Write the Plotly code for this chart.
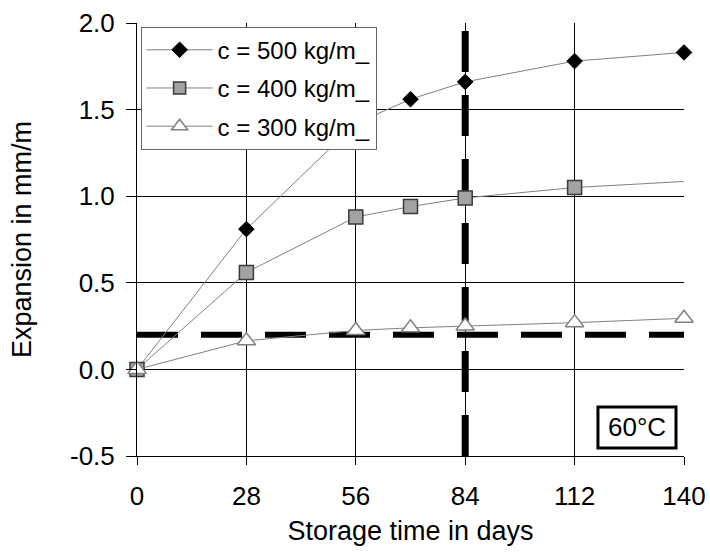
import plotly.graph_objects as go

# ---- data ----
days_500 = [0, 28, 56, 70, 84, 112, 140]
exp_500 = [0.0, 0.81, 1.42, 1.56, 1.66, 1.78, 1.83]

days_400 = [0, 28, 56, 70, 84, 112, 168]
exp_400 = [0.0, 0.56, 0.88, 0.94, 0.99, 1.05, 1.12]

days_300 = [0, 28, 56, 70, 84, 112, 140, 168]
exp_300 = [0.0, 0.165, 0.225, 0.24, 0.25, 0.27, 0.295, 0.32]

series_names = ["c = 500 kg/m_", "c = 400 kg/m_", "c = 300 kg/m_"]

limit_expansion = 0.2   # horizontal dashed limit
limit_day = 84          # vertical dashed limit

x_ticks = [0, 28, 56, 84, 112, 140]
y_ticks = [-0.5, 0.0, 0.5, 1.0, 1.5, 2.0]
x_range = [0, 140]
y_range = [-0.5, 2.0]

FONT = "Liberation Sans, Arial, sans-serif"


def sizes(days, s):
    # hide markers of points that lie outside the visible day range
    return [s if x_range[0] <= d <= x_range[1] else 0 for d in days]


fig = go.Figure()

# dashed limit lines (drawn beneath data)
fig.add_trace(go.Scatter(
    x=[x_range[0], x_range[1]], y=[limit_expansion, limit_expansion],
    mode="lines", line=dict(color="black", width=6, dash="41px,23px"),
    showlegend=False, hoverinfo="skip"))
fig.add_trace(go.Scatter(
    x=[limit_day, limit_day], y=[y_range[0], y_range[1]],
    mode="lines", line=dict(color="black", width=7, dash="41px,23px"),
    showlegend=False, hoverinfo="skip"))

fig.add_trace(go.Scatter(
    x=days_500, y=exp_500, name=series_names[0], mode="lines+markers",
    legendgroup="g500", cliponaxis=False,
    line=dict(color="#808080", width=1),
    marker=dict(symbol="diamond", size=sizes(days_500, 12), color="black",
                opacity=1, line=dict(color="black", width=1))))
fig.add_trace(go.Scatter(
    x=days_400, y=exp_400, name=series_names[1], mode="lines+markers",
    legendgroup="g400", cliponaxis=False,
    line=dict(color="#808080", width=1),
    marker=dict(symbol="square", size=sizes(days_400, 14), color="#a3a3a3",
                opacity=1, line=dict(color="#3a3a3a", width=1.5))))
fig.add_trace(go.Scatter(
    x=days_300, y=exp_300, name=series_names[2], mode="lines+markers",
    legendgroup="g300", cliponaxis=False,
    line=dict(color="#808080", width=1),
    marker=dict(symbol="triangle-up", size=sizes(days_300, 16), color="white",
                opacity=1, line=dict(color="#808080", width=1.5))))

fig.update_layout(
    width=710, height=552,
    margin=dict(l=137, r=26, t=23, b=96, autoexpand=False),
    paper_bgcolor="white", plot_bgcolor="white",
    font=dict(family=FONT, size=26, color="black"),
    showlegend=True,
    legend=dict(
        x=0.0066, y=0.9915, xanchor="left", yanchor="top",
        bgcolor="white", bordercolor="#666666", borderwidth=1,
        font=dict(family=FONT, size=24, color="black"),
        itemwidth=66, tracegroupgap=4, traceorder="grouped",
        itemsizing="trace", entrywidth=236, entrywidthmode="pixels",
    ),
    xaxis=dict(
        range=x_range, tickmode="array", tickvals=x_ticks,
        showgrid=True, gridcolor="black", gridwidth=1, automargin=False,
        zeroline=False, showline=True, linecolor="black", linewidth=1,
        ticks="outside", ticklen=8, tickcolor="black",
        tickfont=dict(size=26), ticklabelstandoff=9,
        title=dict(text="Storage time in days", font=dict(size=27), standoff=10),
    ),
    yaxis=dict(
        range=y_range, tickmode="array", tickvals=y_ticks,
        ticktext=[f"{v:.1f}" for v in y_ticks],
        showgrid=True, gridcolor="black", gridwidth=1, automargin=False,
        zeroline=False, showline=True, linecolor="black", linewidth=1,
        ticks="outside", ticklen=10, tickcolor="black",
        tickfont=dict(size=26), ticklabelstandoff=6,
        title=dict(text="Expansion in mm/m", font=dict(size=27), standoff=30),
    ),
    shapes=[dict(type="rect", xref="paper", yref="paper",
                 x0=0.8427, x1=0.9854, y0=0.0185, y1=0.1132,
                 line=dict(color="black", width=3), fillcolor="white",
                 layer="above")],
    annotations=[dict(text="60°C", xref="paper", yref="paper",
                      x=0.914, y=0.0659, showarrow=False,
                      xanchor="center", yanchor="middle",
                      font=dict(size=26, color="black"))],
)

fig.write_html("out.html")
